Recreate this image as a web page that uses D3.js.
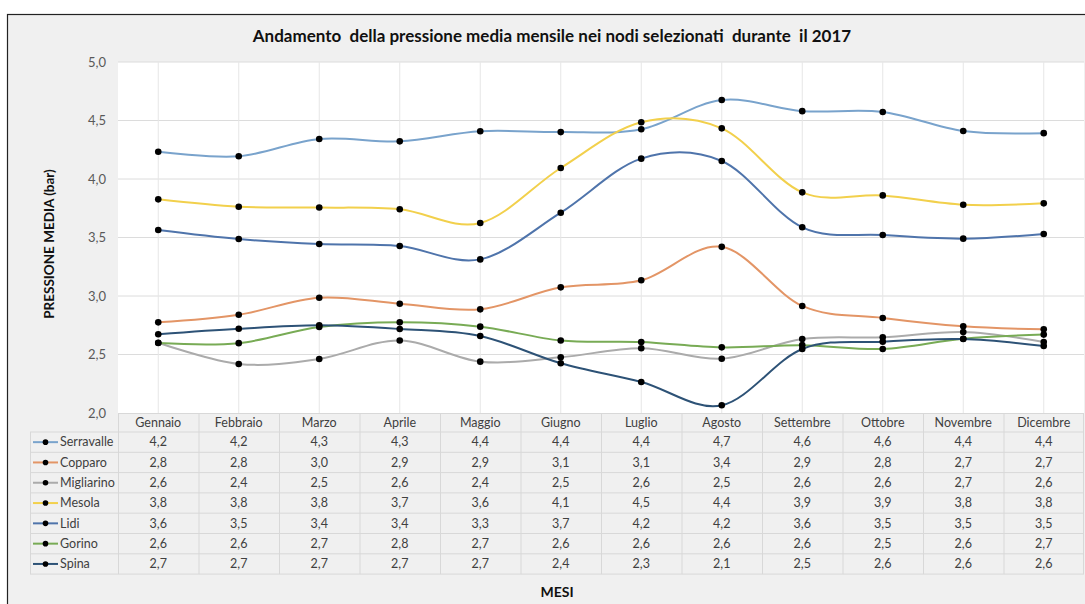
<!DOCTYPE html>
<html>
<head>
<meta charset="utf-8">
<script src="https://cdn.jsdelivr.net/npm/d3@7"></script>
<style>
  html, body { margin: 0; padding: 0; background: #ffffff; }
  svg { display: block; font-family: Lato, "Open Sans", sans-serif; }
  .pre { white-space: pre; }
</style>
</head>
<body>
<svg id="chart" width="1085" height="604"></svg>
<script>
// Monthly mean pressure (bar) at the selected network nodes, 2017
const months = ["Gennaio", "Febbraio", "Marzo", "Aprile", "Maggio", "Giugno",
                "Luglio", "Agosto", "Settembre", "Ottobre", "Novembre", "Dicembre"];
const seriesNames = ["Serravalle", "Copparo", "Migliarino", "Mesola", "Lidi", "Gorino", "Spina"];
const seriesColors = ["#79a3cc", "#e39566", "#ababab", "#f2d04c", "#4f74ab", "#78ab55", "#2d5276"];

const serravalle = [4.233, 4.194, 4.342, 4.322, 4.408, 4.401, 4.425, 4.675, 4.580, 4.573, 4.410, 4.392];
const copparo    = [2.775, 2.840, 2.985, 2.934, 2.886, 3.074, 3.134, 3.420, 2.915, 2.812, 2.741, 2.715];
const migliarino = [2.601, 2.419, 2.462, 2.620, 2.439, 2.476, 2.553, 2.464, 2.632, 2.647, 2.692, 2.607];
const mesola     = [3.826, 3.763, 3.756, 3.741, 3.624, 4.094, 4.485, 4.433, 3.886, 3.860, 3.780, 3.792];
const lidi       = [3.564, 3.487, 3.444, 3.427, 3.313, 3.712, 4.174, 4.154, 3.587, 3.521, 3.490, 3.530];
const gorino     = [2.598, 2.597, 2.735, 2.775, 2.738, 2.620, 2.607, 2.561, 2.580, 2.547, 2.635, 2.670];
const spina      = [2.673, 2.720, 2.749, 2.718, 2.658, 2.425, 2.265, 2.066, 2.547, 2.610, 2.632, 2.573];

const yTicks = [2.0, 2.5, 3.0, 3.5, 4.0, 4.5, 5.0];
const chartTitle = "Andamento  della pressione media mensile nei nodi selezionati  durante  il 2017";
const yTitle = "PRESSIONE MEDIA (bar)";
const xTitle = "MESI";

const seriesValues = [serravalle, copparo, migliarino, mesola, lidi, gorino, spina];
const series = seriesNames.map((name, i) => ({ name, color: seriesColors[i], values: seriesValues[i] }));

const it = d3.formatLocale({ decimal: ",", thousands: ".", grouping: [3], currency: ["€", ""] });
const fmt = it.format(".1f");

const svg = d3.select("#chart");

// chart frame
svg.append("rect").attr("x", 7.5).attr("y", 14.5).attr("width", 1090).attr("height", 600)
  .attr("fill", "#f0f0f0").attr("stroke", "#222").attr("stroke-width", 1.2);

const plot = { left: 118, right: 1084, top: 62, bottom: 413 };

const x = d3.scaleBand().domain(months).range([plot.left, plot.right]).padding(0);
const y = d3.scaleLinear().domain([2, 5]).range([plot.bottom, plot.top]);
const cx = m => x(m) + x.bandwidth() / 2;

// plot area
svg.append("rect").attr("x", plot.left).attr("y", plot.top)
  .attr("width", plot.right - plot.left).attr("height", plot.bottom - plot.top).attr("fill", "#ffffff");

// horizontal gridlines
svg.append("g").selectAll("line").data(yTicks.slice(1)).join("line")
  .attr("x1", plot.left).attr("x2", plot.right)
  .attr("y1", d => y(d)).attr("y2", d => y(d))
  .attr("stroke", "#dcdcdc").attr("stroke-width", 1);

// vertical gridlines at category centres
svg.append("g").selectAll("line").data(months).join("line")
  .attr("x1", d => cx(d)).attr("x2", d => cx(d))
  .attr("y1", plot.top).attr("y2", plot.bottom)
  .attr("stroke", "#e6e6e6").attr("stroke-width", 1);

// y axis labels
const yAxis = d3.axisLeft(y).tickValues(yTicks).tickFormat(fmt).tickSize(0).tickPadding(12);
const gy = svg.append("g").attr("transform", `translate(${plot.left},0)`).call(yAxis);
gy.select(".domain").remove();
gy.selectAll("text").attr("fill", "#595959").attr("font-size", 13)
  .attr("font-family", "Lato, sans-serif");

// smoothed lines
const line = d3.line().x((d, i) => cx(months[i])).y(d => y(d)).curve(d3.curveCatmullRom.alpha(0));
svg.append("g").selectAll("path").data(series).join("path")
  .attr("d", d => line(d.values))
  .attr("fill", "none").attr("stroke", d => d.color).attr("stroke-width", 2);

// markers
series.forEach(s => {
  svg.append("g").selectAll("circle").data(s.values).join("circle")
    .attr("cx", (d, i) => cx(months[i])).attr("cy", d => y(d)).attr("r", 3.3).attr("fill", "#000");
});

// data table
const table = { left: 30, top: plot.bottom, headerH: 19, rowH: 20.3 };
const tg = svg.append("g");
const rowsBottom = table.top + table.headerH + series.length * table.rowH;
const gridColor = "#d8d8d8";

// column dividers
x.domain().forEach(m => {
  tg.append("line").attr("x1", x(m) + 0.5).attr("x2", x(m) + 0.5)
    .attr("y1", table.top).attr("y2", rowsBottom).attr("stroke", gridColor);
});
tg.append("line").attr("x1", plot.right - 0.5).attr("x2", plot.right - 0.5)
  .attr("y1", table.top).attr("y2", rowsBottom).attr("stroke", gridColor);
tg.append("line").attr("x1", table.left + 0.5).attr("x2", table.left + 0.5)
  .attr("y1", table.top + table.headerH).attr("y2", rowsBottom).attr("stroke", gridColor);

// row dividers
d3.range(series.length + 1).forEach(i => {
  const yy = table.top + table.headerH + i * table.rowH;
  tg.append("line").attr("x1", table.left).attr("x2", plot.right)
    .attr("y1", yy).attr("y2", yy).attr("stroke", gridColor);
});
tg.append("line").attr("x1", plot.left).attr("x2", plot.right)
  .attr("y1", table.top + 0.5).attr("y2", table.top + 0.5).attr("stroke", gridColor);

// month headers
tg.selectAll("text.month").data(months).join("text").attr("class", "month")
  .attr("x", d => cx(d)).attr("y", table.top + table.headerH / 2 + 1)
  .attr("text-anchor", "middle").attr("dominant-baseline", "middle")
  .attr("fill", "#404040").attr("font-size", 12.5).text(d => d);

// series rows
series.forEach((s, i) => {
  const rowMid = table.top + table.headerH + i * table.rowH + table.rowH / 2;
  tg.append("line").attr("x1", 33).attr("x2", 58).attr("y1", rowMid).attr("y2", rowMid)
    .attr("stroke", s.color).attr("stroke-width", 2);
  tg.append("circle").attr("cx", 45.5).attr("cy", rowMid).attr("r", 2.8).attr("fill", "#000");
  tg.append("text").attr("x", 60).attr("y", rowMid + 1).attr("dominant-baseline", "middle")
    .attr("fill", "#404040").attr("font-size", 12.5).text(s.name);
  tg.selectAll(null).data(s.values).join("text")
    .attr("x", (d, j) => cx(months[j])).attr("y", rowMid + 1)
    .attr("text-anchor", "middle").attr("dominant-baseline", "middle")
    .attr("fill", "#404040").attr("font-size", 12.5).text(d => fmt(d));
});

// titles
svg.append("text").attr("class", "pre").attr("x", 552).attr("y", 42).attr("text-anchor", "middle")
  .attr("font-size", 17).attr("font-weight", "bold").attr("fill", "#111").text(chartTitle);
svg.append("text").attr("transform", `translate(54,244) rotate(-90)`)
  .attr("text-anchor", "middle").attr("font-size", 13.5).attr("font-weight", "bold")
  .attr("fill", "#111").text(yTitle);
svg.append("text").attr("x", 557).attr("y", 597).attr("text-anchor", "middle")
  .attr("font-size", 14).attr("font-weight", "bold").attr("fill", "#111").text(xTitle);
</script>
</body>
</html>
